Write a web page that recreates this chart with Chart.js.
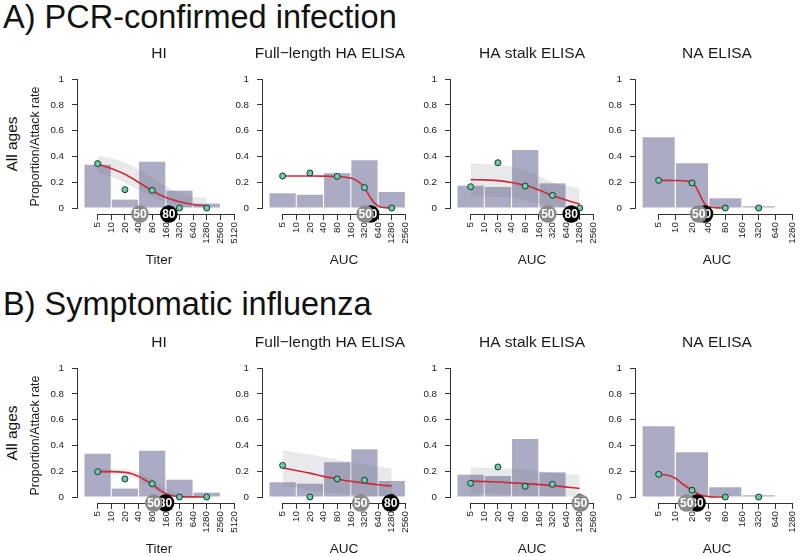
<!DOCTYPE html>
<html>
<head>
<meta charset="utf-8">
<script src="https://cdn.jsdelivr.net/npm/chart.js@4.4.1/dist/chart.umd.min.js"></script>
<style>
  html, body { margin: 0; padding: 0; background: #fff; width: 800px; height: 556px; overflow: hidden; position: relative;
               font-family: "Liberation Sans", Arial, sans-serif; color: #111; }
  .hdr { position: absolute; left: 3px; font-size: 32.5px; line-height: 33px; white-space: nowrap; }
  .side { position: absolute; font-size: 15.5px; white-space: nowrap; transform: translate(-50%, -50%) rotate(-90deg); }
  canvas { position: absolute; }
</style>
</head>
<body>
<div class="hdr" style="top:1px">A) PCR-confirmed infection</div>
<div class="hdr" style="top:288px">B) Symptomatic influenza</div>
<div class="side" style="left:12px; top:144px">All ages</div>
<div class="side" style="left:12px; top:433px">All ages</div>

<script>
// ---- tick labels (x positions are doubling steps above 5) ----
const hiTicks = ['5', '10', '20', '40', '80', '160', '320', '640', '1280', '2560', '5120'];
const aucTicks = ['5', '10', '20', '40', '80', '160', '320', '640', '1280', '2560'];
const naTicks = ['5', '10', '20', '40', '80', '160', '320', '640', '1280'];
const yTicks = [0, 0.2, 0.4, 0.6, 0.8, 1];

const binX = [0, 2, 4, 6, 8];

// ---- proportion of people in each titre bin ----
const hiBars = [0.336, 0.065, 0.359, 0.134, 0.034];
const haBars = [0.114, 0.103, 0.270, 0.370, 0.124];
const stalkBars = [0.173, 0.163, 0.450, 0.191];
const naBars = [0.548, 0.346, 0.075, 0.013];

// ---- A) PCR-confirmed infection ----
const pcrHiRate = [0.344, 0.142, 0.137, 0, 0];
const pcrHiFitX = [0, 1, 2, 3, 4, 5, 6, 7, 8];
const pcrHiFitY = [0.341, 0.307, 0.262, 0.200, 0.134, 0.082, 0.049, 0.027, 0.016];
const pcrHiBandX = [0, 1, 2, 3, 4, 5, 6, 7, 8];
const pcrHiBandHi = [0.405, 0.385, 0.350, 0.300, 0.235, 0.170, 0.115, 0.090, 0.082];
const pcrHiBandLo = [0.270, 0.240, 0.195, 0.140, 0.090, 0.045, 0.015, 0.005, 0.000];
const pcrHiMark = [3.1, 5.22];

const pcrHaRate = [0.248, 0.271, 0.245, 0.158, 0];
const pcrHaFitX = [0, 1, 2, 3, 4, 4.5, 5, 5.5, 6, 6.5, 7, 7.5, 8];
const pcrHaFitY = [0.248, 0.248, 0.248, 0.247, 0.244, 0.240, 0.232, 0.208, 0.158, 0.070, 0.015, 0.003, 0.000];
const pcrHaMark = [6.05, 6.45];

const pcrStalkRate = [0.165, 0.351, 0.170, 0.098, 0];
const pcrStalkFitX = [0, 1, 2, 3, 4, 5, 6, 7, 8];
const pcrStalkFitY = [0.220, 0.218, 0.212, 0.198, 0.176, 0.140, 0.097, 0.062, 0.030];
const pcrStalkBandX = [0, 1, 2, 3, 4, 5, 6, 7, 8];
const pcrStalkBandHi = [0.345, 0.342, 0.335, 0.320, 0.295, 0.250, 0.200, 0.170, 0.155];
const pcrStalkBandLo = [0.090, 0.090, 0.088, 0.080, 0.060, 0.035, 0.015, 0.005, 0.000];
const pcrStalkMark = [5.66, 7.38];

const pcrNaRate = [0.214, 0.194, 0, 0];
const pcrNaFitX = [0, 0.5, 1, 1.5, 2, 2.25, 2.5, 2.75, 3, 3.5, 4];
const pcrNaFitY = [0.214, 0.214, 0.213, 0.211, 0.196, 0.160, 0.095, 0.035, 0.008, 0.001, 0.000];
const pcrNaMark = [2.4, 2.75];

// ---- B) Symptomatic influenza ----
const symHiRate = [0.196, 0.140, 0.103, 0, 0];
const symHiFitX = [0, 1, 2, 2.5, 3, 3.5, 4, 4.5, 5, 5.5, 6, 7, 8];
const symHiFitY = [0.197, 0.197, 0.191, 0.180, 0.160, 0.130, 0.098, 0.057, 0.026, 0.010, 0.003, 0.001, 0.000];
const symHiBandX = [0, 1, 2, 3, 4, 5, 6, 7, 8];
const symHiBandHi = [0.218, 0.218, 0.215, 0.190, 0.135, 0.065, 0.020, 0.005, 0.000];
const symHiBandLo = [0.180, 0.180, 0.170, 0.130, 0.070, 0.015, 0.000, 0.000, 0.000];
const symHiMark = [4.12, 4.98];

const symHaRate = [0.245, 0, 0.140, 0.130, 0];
const symHaFitX = [0, 1, 2, 3, 4, 5, 6, 7, 8];
const symHaFitY = [0.226, 0.205, 0.185, 0.160, 0.140, 0.122, 0.108, 0.095, 0.085];
const symHaBandX = [0, 1, 2, 3, 4, 5, 6, 7, 8];
const symHaBandHi = [0.362, 0.345, 0.330, 0.310, 0.290, 0.270, 0.250, 0.237, 0.225];
const symHaBandLo = [0.090, 0.070, 0.050, 0.037, 0.026, 0.019, 0.013, 0.010, 0.008];
const symHaMark = [5.73, 7.92];

const symStalkRate = [0.106, 0.233, 0.083, 0.098, 0];
const symStalkFitX = [0, 2, 4, 6, 8];
const symStalkFitY = [0.124, 0.116, 0.104, 0.088, 0.066];
const symStalkBandX = [0, 2, 4, 6, 8];
const symStalkBandHi = [0.230, 0.222, 0.210, 0.190, 0.170];
const symStalkBandLo = [0.030, 0.022, 0.012, 0.005, 0.000];
const symStalkMark = [8.05, null];

const symNaRate = [0.176, 0.052, 0, 0];
const symNaFitX = [0, 0.5, 1, 1.5, 2, 2.5, 3, 3.5, 4];
const symNaFitY = [0.176, 0.170, 0.145, 0.095, 0.052, 0.016, 0.003, 0.000, 0.000];
const symNaMark = [1.68, 2.3];

const FONT = '"Liberation Sans", Arial, sans-serif';
const INK = '#1a1a1a';

function pts(xs, ys) {
    return xs.map((x, i) => ({ x: x, y: ys[i] }));
}

// R-style axes: y line from 0 to 1, x line from first to last tick, plus the 50/80 discs
const rAxes = {
    id: 'rAxes',
    afterDraw(chart, args, opts) {
        const { ctx, chartArea: a, scales: { x, y } } = chart;
        ctx.save();
        ctx.strokeStyle = '#333';
        ctx.lineWidth = 1;
        ctx.beginPath();
        const xl = Math.round(a.left) - 0.5;
        ctx.moveTo(xl, y.getPixelForValue(0));
        ctx.lineTo(xl, y.getPixelForValue(1));
        const yb = Math.round(a.bottom) + 0.5;
        ctx.moveTo(x.getPixelForValue(0), yb);
        ctx.lineTo(x.getPixelForValue(opts.last), yb);
        ctx.stroke();

        const discs = [[opts.marks[1], '80', '#000'], [opts.marks[0], '50', '#8a8a8a']];
        discs.forEach(([v, txt, col]) => {
            if (v === null || v === undefined) return;
            const cx = x.getPixelForValue(v);
            const cy = a.bottom;
            ctx.beginPath();
            ctx.arc(cx, cy, 8.8, 0, Math.PI * 2);
            ctx.fillStyle = col;
            ctx.fill();
            ctx.fillStyle = '#fff';
            ctx.font = 'bold 12px ' + FONT;
            ctx.textAlign = 'center';
            ctx.textBaseline = 'middle';
            ctx.fillText(txt, cx, cy + 0.5);
        });
        ctx.restore();
    }
};

function makePanel(p) {
    const cv = document.createElement('canvas');
    cv.width = p.w;
    cv.height = 232;
    cv.style.left = p.left + 'px';
    cv.style.top = p.top + 'px';
    cv.style.width = p.w + 'px';
    cv.style.height = '232px';
    document.body.appendChild(cv);

    const datasets = [
        {
            type: 'scatter', data: pts(binX.slice(0, p.rate.length), p.rate), order: 1,
            pointRadius: 3, pointBorderWidth: 1, pointBackgroundColor: '#66d0ab', pointBorderColor: '#1f302b'
        },
        {
            type: 'line', data: pts(p.fitX, p.fitY), order: 2, borderColor: '#cc2a36', borderWidth: 1.6,
            pointRadius: 0, fill: false, cubicInterpolationMode: 'monotone'
        }
    ];
    if (p.bandX) {
        datasets.push({
            type: 'line', data: pts(p.bandX, p.bandLo), order: 3, borderWidth: 0, pointRadius: 0,
            fill: false, tension: 0.3
        });
        datasets.push({
            type: 'line', data: pts(p.bandX, p.bandHi), order: 3, borderWidth: 0, pointRadius: 0,
            fill: '-1', backgroundColor: 'rgba(105, 105, 120, 0.15)', tension: 0.3
        });
    }
    // bins are two tick steps wide, so the category share is 2
    datasets.push({
        type: 'bar', data: pts(binX.slice(0, p.bars.length), p.bars), order: 4,
        backgroundColor: '#abacc4', borderWidth: 0, categoryPercentage: 2, barPercentage: 0.962
    });

    const yTitle = p.yTitle
        ? { display: true, text: 'Proportion/Attack rate', color: INK, font: { family: FONT, size: 12.4 }, padding: { top: 28.6, bottom: 0 } }
        : { display: false };

    new Chart(cv, {
        type: 'bar',
        data: { datasets: datasets },
        options: {
            responsive: false,
            animation: false,
            events: [],
            layout: { padding: { top: 0, right: 10, bottom: 0, left: 0 } },
            plugins: {
                legend: { display: false },
                tooltip: { enabled: false },
                title: {
                    display: true, text: p.title, fullSize: !!p.titleFull, color: INK,
                    font: { family: FONT, size: 15.5, weight: 'normal' },
                    padding: { top: 4.7, bottom: 15.7 }
                },
                rAxes: { last: p.ticks.length - 1, marks: p.marks }
            },
            scales: {
                x: {
                    type: 'linear', min: p.xMin, max: p.xMax, offset: false,
                    border: { display: false },
                    grid: { drawOnChartArea: false, drawTicks: true, tickLength: 6, tickColor: '#333', offset: false },
                    afterBuildTicks: s => { s.ticks = p.ticks.map((_, i) => ({ value: i })); },
                    afterFit: s => { s.height = 58; },
                    ticks: {
                        autoSkip: false, minRotation: 90, maxRotation: 90, padding: 2, color: INK,
                        font: { family: FONT, size: 9.8 },
                        callback: (v, i) => p.ticks[i]
                    },
                    title: { display: true, text: p.xTitle, color: INK, font: { family: FONT, size: 13.5 }, padding: { top: 0, bottom: 3.6 } }
                },
                y: {
                    min: -0.0465, max: 1,
                    border: { display: false },
                    grid: { drawOnChartArea: false, drawTicks: true, tickLength: 6, tickColor: '#333' },
                    afterBuildTicks: s => { s.ticks = yTicks.map(v => ({ value: v })); },
                    afterFit: s => { s.width = p.yW; },
                    ticks: { padding: 8, color: INK, font: { family: FONT, size: 9.8 }, callback: v => String(v) },
                    title: yTitle
                }
            }
        },
        plugins: [rAxes]
    });
}

const rows = [
    { top: 40, sets: [
        { rate: pcrHiRate, fitX: pcrHiFitX, fitY: pcrHiFitY, bandX: pcrHiBandX, bandHi: pcrHiBandHi, bandLo: pcrHiBandLo, marks: pcrHiMark },
        { rate: pcrHaRate, fitX: pcrHaFitX, fitY: pcrHaFitY, marks: pcrHaMark },
        { rate: pcrStalkRate, fitX: pcrStalkFitX, fitY: pcrStalkFitY, bandX: pcrStalkBandX, bandHi: pcrStalkBandHi, bandLo: pcrStalkBandLo, marks: pcrStalkMark },
        { rate: pcrNaRate, fitX: pcrNaFitX, fitY: pcrNaFitY, marks: pcrNaMark }
    ] },
    { top: 329, sets: [
        { rate: symHiRate, fitX: symHiFitX, fitY: symHiFitY, bandX: symHiBandX, bandHi: symHiBandHi, bandLo: symHiBandLo, marks: symHiMark },
        { rate: symHaRate, fitX: symHaFitX, fitY: symHaFitY, bandX: symHaBandX, bandHi: symHaBandHi, bandLo: symHaBandLo, marks: symHaMark },
        { rate: symStalkRate, fitX: symStalkFitX, fitY: symStalkFitY, bandX: symStalkBandX, bandHi: symStalkBandHi, bandLo: symStalkBandLo, marks: symStalkMark },
        { rate: symNaRate, fitX: symNaFitX, fitY: symNaFitY, marks: symNaMark }
    ] }
];

// column 2 keeps a narrow y-scale and a full-width title so its title sits left of the plot centre, as in the original
const columns = [
    { left: 0, w: 250, yW: 78, title: 'HI', xTitle: 'Titer', ticks: hiTicks, bars: hiBars, xMin: -1.44, xMax: 10.44, yTitle: true },
    { left: 235, w: 200, yW: 28, titleFull: true, title: 'Full\u2212length HA ELISA', xTitle: 'AUC', ticks: aucTicks, bars: haBars, xMin: -1.44, xMax: 10.44 },
    { left: 391, w: 232, yW: 60, title: 'HA stalk ELISA', xTitle: 'AUC', ticks: aucTicks, bars: stalkBars, xMin: -1.44, xMax: 10.44 },
    { left: 576, w: 232, yW: 60, title: 'NA ELISA', xTitle: 'AUC', ticks: naTicks, bars: naBars, xMin: -1.36, xMax: 8.36 }
];

rows.forEach(row => {
    columns.forEach((col, i) => {
        makePanel(Object.assign({ top: row.top }, col, row.sets[i]));
    });
});
</script>
</body>
</html>
